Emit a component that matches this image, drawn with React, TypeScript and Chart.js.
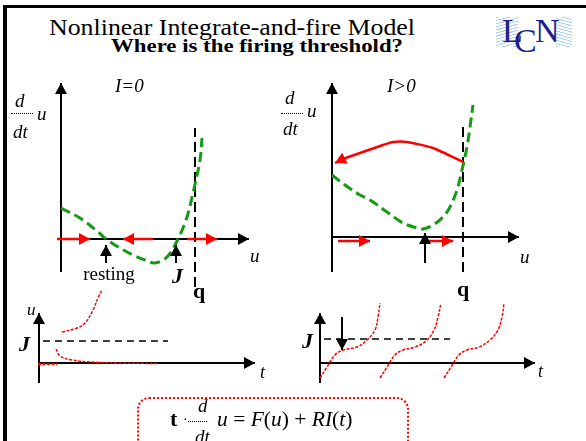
import React, { useEffect, useRef } from "react";
import { Chart, registerables } from "chart.js";
Chart.register(...registerables);

// ===== Top-left: phase plane, I = 0 (u vs du/dt) =====
const tlCurveU = [0, 1.9, 3.6, 4.5, 5.9, 7.2, 8.4, 9.4, 10.6, 11.7, 12.6, 13.2, 13.9, 14.1];
const tlCurveDu = [3.1, 2.1, 0.8, 0, -0.9, -1.6, -2.1, -2.4, -1.8, 0, 2.2, 4.6, 7.9, 10.1];
const tlAxisU = [-0.4, 18.8];
const tlAxisDu = [-3.3, 15.6];
const tlThetaU = 13.4;
const tlThetaDu = [-4.8, 11.1];
const tlFlowStart = [-0.4, 9.2, 12.6];
const tlFlowEnd = [2.9, 6.2, 15.6];
const tlMarkerU = [4.5, 11.5];
const tlMarkerDu = [-2.4, -0.6];

// ===== Top-right: phase plane, I > 0 =====
const trCurveU = [0, 1.3, 2.8, 3.8, 5.5, 7.1, 8.5, 9.1, 10.1, 11.1, 11.8, 12.5, 13.0, 13.5, 13.8, 14.1];
const trCurveDu = [6.2, 5.2, 4.2, 3.7, 2.5, 1.4, 0.9, 0.8, 1.2, 2.0, 3.0, 4.7, 6.7, 9.0, 11.0, 13.2];
const trResetU = [13.1, 10.1, 7.5, 6.1, 5.1, 2.5, 1.1, 0.3];
const trResetDu = [7.5, 8.9, 9.5, 9.5, 9.2, 8.3, 7.8, 7.4];
const trAxisU = [0, 18.7];
const trAxisDu = [-3.5, 15.4];
const trThetaU = 13.1;
const trThetaDu = [-3.5, 11.0];
const trFlowStart = [0.6, 9.0];
const trFlowEnd = [3.8, 12.1];
const trFlowDu = -0.4;
const trMarkerU = 9.3;
const trMarkerDu = [-2.6, 0.4];

// ===== Bottom-left: u(t), I = 0 =====
const blAxisT = [-0.1, 21.6];
const blAxisU = [-2, 5];
const blThetaU = 2.2;
const blThetaT = [0.4, 12.9];
const blSpikeT = [2.3, 3.8, 4.6, 5.4, 5.9, 6.3];
const blSpikeU = [3.1, 3.5, 4.0, 5.3, 6.5, 7.3];
const blDecayT = [1.7, 2.1, 3.3, 5.1, 7.8, 11.9];
const blDecayU = [1.4, 0.7, 0.3, 0.1, 0.0, -0.05];
const blRestT = [-0.1, 1.8];
const blRestU = -0.1;

// ===== Bottom-right: u(t), I > 0 =====
const brAxisT = [0, 21.5];
const brAxisU = [-2, 5];
const brThetaU = 2.4;
const brThetaT = [0.4, 13.0];
const brMarkerT = 2.2;
const brMarkerU = [4.6, 1.3];
const brSpike1T = [0, 0.7, 1.5, 2.3, 3.7, 4.7, 5.5, 5.8, 6.0];
const brSpike1U = [-1.5, -0.4, 0.8, 1.3, 1.6, 2.3, 3.3, 4.6, 6.0];
const brSpike2T = [6.0, 6.7, 7.5, 8.3, 9.5, 10.6, 11.4, 11.8, 12.1];
const brSpike2U = [-1.5, -0.4, 0.8, 1.3, 1.6, 2.2, 3.3, 4.6, 6.0];
const brSpike3T = [12.4, 13.1, 13.9, 14.7, 15.9, 17.0, 17.8, 18.2, 18.4];
const brSpike3U = [-1.5, -0.4, 0.8, 1.3, 1.6, 2.3, 3.3, 4.6, 6.0];

const GREEN = "#149a14";
const RED = "#ff0000";
const BLACK = "#000000";
const NAVY = "#1e1e8c";
const SERIF = '"Liberation Serif", "Times New Roman", Times, serif';

type P = { x: number; y: number };
const pts = (xs: number[], ys: number[]): P[] => xs.map((x, i) => ({ x, y: ys[i] }));
const hLine = (x0: number, x1: number, y: number): P[] => [{ x: x0, y }, { x: x1, y }];
const vLine = (x: number, y0: number, y1: number): P[] => [{ x, y: y0 }, { x, y: y1 }];

function ds(data: P[], color: string, width: number, o: any = {}) {
  return {
    data,
    showLine: true,
    borderColor: color,
    backgroundColor: color,
    borderWidth: width,
    borderDash: o.dash || [],
    borderCapStyle: "butt",
    pointRadius: 0,
    pointHoverRadius: 0,
    tension: o.tension || 0,
    clip: false,
    order: o.order ?? 1,
    arrow: !!o.arrow,
  };
}

const arrowPlugin = {
  id: "arrowHeads",
  afterDatasetsDraw(chart: any) {
    const ctx = chart.ctx;
    chart.data.datasets.forEach((d: any, i: number) => {
      if (!d.arrow) return;
      const el = chart.getDatasetMeta(i).data;
      if (el.length < 2) return;
      const a = el[el.length - 1];
      const b = el[el.length - 2];
      const ang = Math.atan2(a.y - b.y, a.x - b.x);
      const L = 11;
      const W = 6;
      ctx.save();
      ctx.fillStyle = d.borderColor;
      ctx.translate(a.x, a.y);
      ctx.rotate(ang);
      ctx.beginPath();
      ctx.moveTo(0, 0);
      ctx.lineTo(-L, -W);
      ctx.lineTo(-L, W);
      ctx.closePath();
      ctx.fill();
      ctx.restore();
    });
  },
};

function axes(xr: number[], yr: number[]) {
  return [
    ds(hLine(xr[0], xr[1], 0), BLACK, 2, { arrow: true, order: 5 }),
    ds(vLine(0, yr[0], yr[1]), BLACK, 2, { arrow: true, order: 5 }),
  ];
}

const tlDatasets = [
  ...axes(tlAxisU, tlAxisDu),
  ds(vLine(tlThetaU, tlThetaDu[0], tlThetaDu[1]), BLACK, 2, { dash: [10, 5], order: 4 }),
  ds(pts(tlCurveU, tlCurveDu), GREEN, 3, { dash: [10, 5], tension: 0.35, order: 2 }),
  ...tlFlowStart.map((s, i) => ds(hLine(s, tlFlowEnd[i], 0), RED, 2.5, { arrow: true, order: 1 })),
  ...tlMarkerU.map((u) => ds(vLine(u, tlMarkerDu[0], tlMarkerDu[1]), BLACK, 2, { arrow: true, order: 0 })),
];

const trDatasets = [
  ...axes(trAxisU, trAxisDu),
  ds(vLine(trThetaU, trThetaDu[0], trThetaDu[1]), BLACK, 2, { dash: [10, 5], order: 4 }),
  ds(pts(trCurveU, trCurveDu), GREEN, 3, { dash: [10, 5], tension: 0.35, order: 2 }),
  ds(pts(trResetU, trResetDu), RED, 2.5, { arrow: true, tension: 0.2, order: 1 }),
  ...trFlowStart.map((s, i) => ds(hLine(s, trFlowEnd[i], trFlowDu), RED, 2.5, { arrow: true, order: 1 })),
  ds(vLine(trMarkerU, trMarkerDu[0], trMarkerDu[1]), BLACK, 2, { arrow: true, order: 0 }),
];

const blDatasets = [
  ...axes(blAxisT, blAxisU),
  ds(hLine(blThetaT[0], blThetaT[1], blThetaU), BLACK, 1.5, { dash: [7, 5], order: 4 }),
  ds(pts(blSpikeT, blSpikeU), RED, 1.5, { dash: [3, 1.5], tension: 0.4, order: 1 }),
  ds(pts(blDecayT, blDecayU), RED, 1.5, { dash: [3, 1.5], tension: 0.4, order: 1 }),
  ds(hLine(blRestT[0], blRestT[1], blRestU), RED, 2.5, { dash: [3, 1.5], order: 1 }),
];

const brDatasets = [
  ...axes(brAxisT, brAxisU),
  ds(hLine(brThetaT[0], brThetaT[1], brThetaU), BLACK, 1.5, { dash: [7, 5], order: 4 }),
  ds(pts(brSpike1T, brSpike1U), RED, 1.5, { dash: [3, 1.5], tension: 0.4, order: 1 }),
  ds(pts(brSpike2T, brSpike2U), RED, 1.5, { dash: [3, 1.5], tension: 0.4, order: 1 }),
  ds(pts(brSpike3T, brSpike3U), RED, 1.5, { dash: [3, 1.5], tension: 0.4, order: 1 }),
  ds(vLine(brMarkerT, brMarkerU[0], brMarkerU[1]), BLACK, 2, { arrow: true, order: 0 }),
];

function Panel(props: {
  left: number; top: number; width: number; height: number;
  x: number[]; y: number[]; datasets: any[];
}) {
  const ref = useRef<HTMLCanvasElement | null>(null);
  useEffect(() => {
    const chart = new Chart(ref.current as HTMLCanvasElement, {
      type: "scatter",
      data: { datasets: props.datasets },
      options: {
        animation: false,
        responsive: false,
        maintainAspectRatio: false,
        events: [],
        layout: { padding: 0 },
        plugins: { legend: { display: false }, tooltip: { enabled: false }, title: { display: false } },
        scales: {
          x: { type: "linear", min: props.x[0], max: props.x[1], display: false },
          y: { type: "linear", min: props.y[0], max: props.y[1], display: false },
        },
      } as any,
      plugins: [arrowPlugin],
    } as any);
    return () => chart.destroy();
  }, []);
  return (
    <canvas
      ref={ref}
      width={props.width}
      height={props.height}
      style={{ position: "absolute", left: props.left, top: props.top, width: props.width, height: props.height }}
    />
  );
}

let measureCtx: CanvasRenderingContext2D | null = null;
function measure(text: string, font: string) {
  if (!measureCtx) measureCtx = document.createElement("canvas").getContext("2d");
  measureCtx!.font = font;
  return measureCtx!.measureText(text).width;
}

function Txt(p: {
  x: number; y: number; size: number; bold?: boolean; italic?: boolean;
  center?: boolean; color?: string; fit?: number; children: any;
}) {
  const style: any = {
    position: "absolute",
    left: p.x,
    top: p.y - 0.8375 * p.size,
    fontFamily: SERIF,
    fontSize: p.size,
    lineHeight: `${p.size}px`,
    fontWeight: p.bold ? "bold" : "normal",
    fontStyle: p.italic ? "italic" : "normal",
    whiteSpace: "nowrap",
    color: p.color || "#000",
  };
  let tf = "";
  if (p.center) tf += "translateX(-50%) ";
  if (p.fit && typeof p.children === "string") {
    const w = measure(p.children, `${p.italic ? "italic " : ""}${p.bold ? "bold " : ""}${p.size}px ${SERIF}`);
    tf += `scaleX(${p.fit / w})`;
    style.transformOrigin = "left center";
  }
  if (tf) style.transform = tf;
  return <div style={style}>{p.children}</div>;
}

function FracLine(p: { x: number; y: number; w: number }) {
  return (
    <div style={{ position: "absolute", left: p.x, top: p.y, width: p.w, height: 0, borderTop: "1.5px dotted #000" }} />
  );
}

function DuDt(p: { dx: number; dy: number }) {
  return (
    <>
      <Txt x={15 + p.dx} y={107 + p.dy} size={19} italic>d</Txt>
      <FracLine x={11 + p.dx} y={113} w={22} />
      <Txt x={37 + p.dx} y={120 + p.dy} size={19} italic>u</Txt>
      <Txt x={13 + p.dx} y={138 + p.dy} size={19} italic>dt</Txt>
    </>
  );
}

export default function App() {
  return (
    <div
      style={{
        position: "fixed", left: 0, top: 0, width: 586, height: 441,
        overflow: "hidden", background: "#fff", fontFamily: SERIF,
      }}
    >
      <Panel left={0} top={70} width={290} height={240} x={[-6.1, 22.9]} y={[-7.1, 16.9]} datasets={tlDatasets} />
      <Panel left={290} top={70} width={296} height={240} x={[-4.2, 25.4]} y={[-7.3, 16.7]} datasets={trDatasets} />
      <Panel left={0} top={280} width={290} height={120} x={[-3.9, 25.1]} y={[-3.7, 8.3]} datasets={blDatasets} />
      <Panel left={290} top={280} width={296} height={120} x={[-3.0, 26.6]} y={[-3.7, 8.3]} datasets={brDatasets} />

      {/* Title */}
      <Txt x={49} y={35.5} size={23} fit={366}>Nonlinear Integrate-and-fire Model</Txt>
      <Txt x={111} y={52} size={19} bold fit={292}>Where is the firing threshold?</Txt>

      {/* Logo */}
      <div style={{
        position: "absolute", left: 496, top: 17, width: 22, height: 30,
        background: "repeating-linear-gradient(165deg, rgba(110,175,235,0.55) 0 1px, transparent 1px 3px)",
      }} />
      <div style={{
        position: "absolute", left: 556, top: 17, width: 16, height: 30,
        background: "repeating-linear-gradient(15deg, rgba(110,175,235,0.55) 0 1px, transparent 1px 3px)",
      }} />
      <Txt x={502} y={42} size={34} color={NAVY}>L</Txt>
      <Txt x={514} y={52} size={34} color={NAVY}>C</Txt>
      <Txt x={535} y={42} size={34} color={NAVY}>N</Txt>

      {/* Top-left labels */}
      <DuDt dx={0} dy={0} />
      <Txt x={115} y={92} size={19} italic>I=0</Txt>
      <Txt x={109} y={280} size={19} center>resting</Txt>
      <Txt x={172} y={283} size={22} bold italic>J</Txt>
      <Txt x={193} y={298} size={22} bold>q</Txt>
      <Txt x={250} y={262} size={19} italic>u</Txt>

      {/* Top-right labels */}
      <DuDt dx={270} dy={-3} />
      <Txt x={387} y={92} size={19} italic>{"I>0"}</Txt>
      <Txt x={457} y={296} size={22} bold>q</Txt>
      <Txt x={520} y={263} size={19} italic>u</Txt>

      {/* Bottom-left labels */}
      <Txt x={27} y={315} size={17} italic>u</Txt>
      <Txt x={19} y={351} size={22} bold italic>J</Txt>
      <Txt x={260} y={378} size={18} italic>t</Txt>

      {/* Bottom-right labels */}
      <Txt x={302} y={348} size={22} bold italic>J</Txt>
      <Txt x={538} y={377} size={18} italic>t</Txt>

      {/* Equation box */}
      <div style={{
        position: "absolute", left: 137, top: 397, width: 268, height: 60,
        border: "2px dotted " + RED, borderRadius: 12,
      }} />
      <Txt x={170} y={426} size={22} bold>t</Txt>
      <Txt x={183} y={425} size={14}>·</Txt>
      <Txt x={198} y={412} size={19} italic>d</Txt>
      <FracLine x={188} y={421} w={19} />
      <Txt x={195} y={443} size={19} italic>dt</Txt>
      <div style={{
        position: "absolute", left: 217, top: 427 - 0.8375 * 21.5, fontFamily: SERIF, fontSize: 21.5,
        lineHeight: "21.5px", whiteSpace: "nowrap",
      }}>
        <i>u</i> = <i>F</i>(<i>u</i>) + <i>RI</i>(<i>t</i>)
      </div>

      {/* Slide frame */}
      <div style={{ position: "absolute", left: 3, top: 5, width: 583, height: 3, background: "#000" }} />
      <div style={{ position: "absolute", left: 3, top: 5, width: 4, height: 436, background: "#000" }} />
    </div>
  );
}
